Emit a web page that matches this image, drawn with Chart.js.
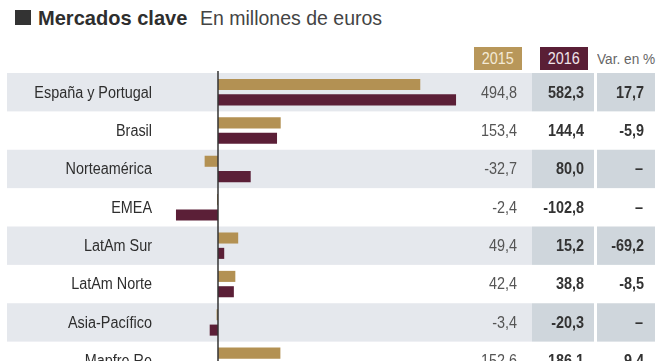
<!DOCTYPE html>
<html>
<head>
<meta charset="utf-8">
<script src="https://cdn.jsdelivr.net/npm/chart.js@4/dist/chart.umd.min.js"></script>
<style>
  html, body { margin: 0; padding: 0; background: #fff; overflow: hidden; }
  body { width: 664px; height: 361px; position: relative; font-family: "Liberation Sans", Arial, sans-serif; }
  .abs { position: absolute; white-space: nowrap; line-height: 1; }
  .narrow { display: inline-block; transform-origin: left center; white-space: nowrap; }
  #sq { left: 15px; top: 10px; width: 16px; height: 15px; background: #333; }
  #t1 { left: 38px; top: 7px; font-size: 21px; font-weight: bold; color: #2e2e2e; }
  #t1 .narrow { transform: scaleX(0.955); }
  #t2 { left: 200px; top: 8.5px; font-size: 19.5px; color: #444; }
  .hdr { position: absolute; top: 47px; height: 23px; line-height: 24px; font-size: 16px; text-align: center; white-space: nowrap; }
  .hdr .narrow { transform: scaleX(0.9); transform-origin: center center; }
  #h2015 { left: 474px; width: 48px; background: #b8975a; color: #f4ead6; }
  #h2016 { left: 540px; width: 48px; background: #5a1f36; color: #f1e4ea; }
  #hvar { left: 597px; width: 80px; color: #666; font-size: 15.5px; text-align: left; }
  #hvar .narrow { transform-origin: left center; transform: scaleX(0.88); }
  #wrap { position: absolute; left: 0; top: 0; width: 664px; height: 400px; }
</style>
</head>
<body>
<div class="abs" id="sq"></div>
<div class="abs" id="t1"><span class="narrow">Mercados clave</span></div>
<div class="abs" id="t2"><span>En millones de euros</span></div>
<div class="hdr" id="h2015"><span class="narrow">2015</span></div>
<div class="hdr" id="h2016"><span class="narrow">2016</span></div>
<div class="hdr" id="hvar"><span class="narrow">Var. en %</span></div>
<div id="wrap"><canvas id="c" width="664" height="400"></canvas></div>
<script>
// Mercados clave — horizontal bars 2015 vs 2016 plus a small value table

const FONT = '"Liberation Sans", Arial, sans-serif';
const SQUEEZE = 0.9; // fake a condensed face, none is installed

const markets = ['España y Portugal', 'Brasil', 'Norteamérica', 'EMEA', 'LatAm Sur', 'LatAm Norte', 'Asia-Pacífico', 'Mapfre Re'];
const values2015 = [494.8, 153.4, -32.7, -2.4, 49.4, 42.4, -3.4, 152.6];
const values2016 = [582.3, 144.4, 80.0, -102.8, 15.2, 38.8, -20.3, 186.1];
const variation = ['17,7', '-5,9', '–', '–', '-69,2', '-8,5', '–', '9,4'];

const fmt = v => v.toFixed(1).replace('.', ',');

function narrowText(ctx, text, x, y, align) {
  ctx.save();
  ctx.translate(x, y);
  ctx.scale(SQUEEZE, 1);
  ctx.textAlign = align;
  ctx.fillText(text, 0, 0);
  ctx.restore();
}

const tablePlugin = {
  id: 'tablePlugin',
  beforeDraw(chart) {
    const { ctx, scales: { y }, chartArea } = chart;
    const rowH = (chartArea.bottom - chartArea.top) / markets.length;
    ctx.save();
    markets.forEach((m, i) => {
      if (i % 2 !== 0) return;
      const top = y.getPixelForValue(i) - rowH / 2;
      ctx.fillStyle = '#e5e8ed';
      ctx.fillRect(7, top, 525, rowH);
      ctx.fillStyle = '#cfd6dc';
      ctx.fillRect(532, top, 62, rowH);
      ctx.fillRect(597, top, 58, rowH);
    });
    ctx.restore();
  },
  afterDatasetsDraw(chart) {
    const { ctx, scales: { x, y }, chartArea } = chart;
    const zero = x.getPixelForValue(0);
    ctx.save();
    ctx.strokeStyle = '#333';
    ctx.lineWidth = 1.5;
    ctx.beginPath();
    ctx.moveTo(zero, chartArea.top - 2);
    ctx.lineTo(zero, chartArea.bottom);
    ctx.stroke();

    ctx.textBaseline = 'middle';
    markets.forEach((m, i) => {
      const cy = y.getPixelForValue(i) + 1;
      // category label
      ctx.font = '16px ' + FONT;
      ctx.fillStyle = '#2e2e2e';
      narrowText(ctx, m, 152, cy, 'right');
      // table
      ctx.fillStyle = '#555';
      narrowText(ctx, fmt(values2015[i]), 517, cy, 'right');
      ctx.font = 'bold 16px ' + FONT;
      ctx.fillStyle = '#333';
      narrowText(ctx, fmt(values2016[i]), 584, cy, 'right');
      if (variation[i] === '–') {
        narrowText(ctx, variation[i], 639, cy, 'center');
      } else {
        narrowText(ctx, variation[i], 644, cy, 'right');
      }
    });
    ctx.restore();
  }
};

new Chart(document.getElementById('c'), {
  type: 'bar',
  data: {
    labels: markets,
    datasets: [
      { label: '2015', data: values2015, backgroundColor: '#b39153', categoryPercentage: 0.8, barPercentage: 0.72 },
      { label: '2016', data: values2016, backgroundColor: '#5b1f37', categoryPercentage: 0.8, barPercentage: 0.72 },
    ],
  },
  options: {
    indexAxis: 'y',
    responsive: false,
    animation: false,
    devicePixelRatio: 1,
    layout: { padding: { top: 73, bottom: 20, left: 0, right: 0 } },
    plugins: { legend: { display: false }, tooltip: { enabled: false } },
    scales: {
      x: { min: -159, max: 1091, display: false },
      y: {
        grid: { display: false, drawTicks: false },
        border: { display: false },
        ticks: { display: false },
        afterFit: s => { s.width = 153; },
      },
    },
  },
  plugins: [tablePlugin],
});
</script>
</body>
</html>
